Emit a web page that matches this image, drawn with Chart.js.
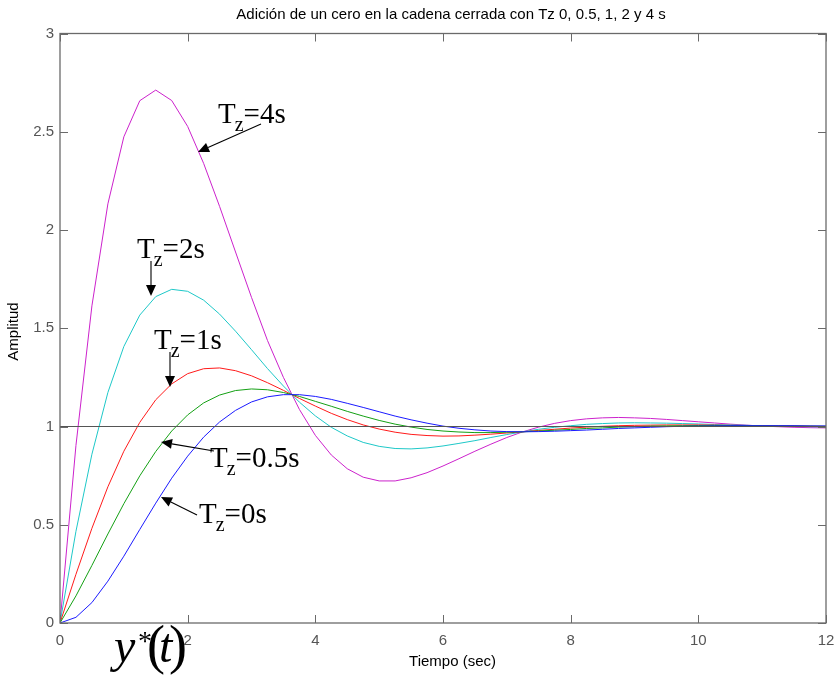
<!DOCTYPE html>
<html><head><meta charset="utf-8">
<script src="https://cdn.jsdelivr.net/npm/chart.js@4.4.1/dist/chart.umd.min.js"></script>
<style>html,body{margin:0;padding:0;background:#fff}canvas{display:block}</style>
</head><body>
<canvas id="c" width="838" height="676"></canvas>
<script>
// ---- data ----
const tiempo = [0,0.25,0.5,0.75,1,1.25,1.5,1.75,2,2.25,2.5,2.75,3,3.25,3.5,3.75,4,4.25,4.5,4.75,5,5.25,5.5,5.75,6,6.25,6.5,6.75,7,7.25,7.5,7.75,8,8.25,8.5,8.75,9,9.25,9.5,9.75,10,10.25,10.5,10.75,11,11.25,11.5,11.75,12];
const tz0  = [0,0.029,0.104,0.213,0.340,0.476,0.610,0.737,0.849,0.946,1.023,1.082,1.125,1.151,1.162,1.162,1.153,1.138,1.118,1.097,1.075,1.053,1.034,1.017,1.002,0.991,0.983,0.977,0.974,0.973,0.974,0.976,0.979,0.982,0.986,0.990,0.993,0.996,0.999,1.001,1.002,1.003,1.004,1.004,1.004,1.004,1.004,1.003,1.003];
const tz05 = [0,0.138,0.293,0.453,0.607,0.749,0.873,0.977,1.059,1.120,1.160,1.183,1.191,1.187,1.173,1.153,1.128,1.103,1.077,1.053,1.031,1.012,0.997,0.985,0.977,0.972,0.969,0.969,0.971,0.973,0.977,0.981,0.985,0.990,0.993,0.997,0.999,1.002,1.003,1.004,1.005,1.005,1.005,1.005,1.004,1.003,1.003,1.002,1.001];
const tz1  = [0,0.248,0.482,0.693,0.874,1.021,1.136,1.217,1.269,1.294,1.298,1.284,1.258,1.223,1.184,1.143,1.104,1.067,1.035,1.008,0.987,0.971,0.960,0.954,0.951,0.952,0.956,0.961,0.967,0.973,0.980,0.986,0.992,0.997,1.001,1.004,1.006,1.007,1.008,1.008,1.008,1.007,1.006,1.005,1.004,1.003,1.002,1.001,1.000];
const tz2  = [0,0.467,0.859,1.173,1.407,1.567,1.661,1.698,1.688,1.643,1.572,1.485,1.391,1.295,1.206,1.124,1.054,0.996,0.952,0.919,0.899,0.888,0.886,0.891,0.901,0.914,0.928,0.944,0.959,0.973,0.986,0.996,1.004,1.011,1.015,1.018,1.019,1.018,1.017,1.015,1.013,1.010,1.008,1.006,1.003,1.002,1.000,0.999,0.998];
const tz4  = [0,0.904,1.614,2.133,2.474,2.658,2.712,2.659,2.527,2.339,2.120,1.888,1.657,1.438,1.250,1.087,0.955,0.855,0.785,0.742,0.723,0.723,0.739,0.765,0.799,0.836,0.874,0.910,0.944,0.973,0.997,1.016,1.030,1.039,1.044,1.046,1.044,1.041,1.036,1.030,1.024,1.018,1.012,1.007,1.002,0.999,0.996,0.994,0.993];
const refX = [0,12];
const refY = [1,1];
const xTickValues = [0,2,4,6,8,10,12];
const xTickLabels = ['0','2','4','6','8','10','12'];
const yTickValues = [0,0.5,1,1.5,2,2.5,3];
const yTickLabels = ['0','0.5','1','1.5','2','2.5','3'];
const titleText = 'Adición de un cero en la cadena cerrada con Tz 0, 0.5, 1, 2 y 4 s';
const xTitle = 'Tiempo (sec)';
const yTitle = 'Amplitud';

// ---- styling ----
const SANS = '"Liberation Sans", Arial, Helvetica, sans-serif';
const SERIF = '"Liberation Serif", "Times New Roman", serif';
const pts = (ys) => tiempo.map((t,i)=>({x:t,y:ys[i]}));
const line = (data,color,w)=>({data,borderColor:color,borderWidth:w||1,pointRadius:0,tension:0,fill:false});

// annotations
const notes = [
  {suf:'=4s',  x:218, y:123, ax:261, ay:124, bx:198, by:152},
  {suf:'=2s',  x:137, y:258, ax:151, ay:261, bx:151, by:296},
  {suf:'=1s',  x:154, y:349, ax:170, ay:352, bx:170, by:387},
  {suf:'=0.5s',x:210, y:467, ax:214, ay:451, bx:161, by:442},
  {suf:'=0s',  x:199, y:523, ax:197, ay:515, bx:161, by:497}
];

function arrow(ctx,x1,y1,x2,y2){
  const ang=Math.atan2(y2-y1,x2-x1), L=11, W=5;
  const bx=x2-L*Math.cos(ang), by=y2-L*Math.sin(ang);
  ctx.beginPath();ctx.moveTo(x1,y1);ctx.lineTo(bx,by);ctx.stroke();
  ctx.beginPath();
  ctx.moveTo(x2,y2);
  ctx.lineTo(bx+W*Math.sin(ang),by-W*Math.cos(ang));
  ctx.lineTo(bx-W*Math.sin(ang),by+W*Math.cos(ang));
  ctx.closePath();ctx.fill();
}

const overlay = {
  id:'overlay',
  afterDatasetsDraw(chart){
    const ctx=chart.ctx, a=chart.chartArea, xs=chart.scales.x, ys=chart.scales.y;
    ctx.save();
    ctx.strokeStyle='#6a6a6a'; ctx.lineWidth=1.3;
    ctx.strokeRect(a.left,a.top,a.right-a.left,a.bottom-a.top);
    ctx.beginPath();
    xTickValues.forEach(v=>{const p=Math.round(xs.getPixelForValue(v))+0.5;
      ctx.moveTo(p,a.bottom);ctx.lineTo(p,a.bottom-8);ctx.moveTo(p,a.top);ctx.lineTo(p,a.top+8);});
    yTickValues.forEach(v=>{const p=Math.round(ys.getPixelForValue(v))+0.5;
      ctx.moveTo(a.left,p);ctx.lineTo(a.left+8,p);ctx.moveTo(a.right,p);ctx.lineTo(a.right-8,p);});
    ctx.lineWidth=1; ctx.stroke();
    ctx.fillStyle='#000';
    ctx.font='15px '+SANS; ctx.textAlign='center'; ctx.textBaseline='alphabetic';
    ctx.fillText(titleText,451,18.5);
    ctx.fillText(xTitle,452.5,666);
    ctx.save(); ctx.translate(17.5,331.5); ctx.rotate(-Math.PI/2); ctx.fillText(yTitle,0,0); ctx.restore();
    ctx.textAlign='left'; ctx.strokeStyle='#000'; ctx.lineWidth=1.1;
    notes.forEach(n=>{
      ctx.font='29px '+SERIF; ctx.fillText('T',n.x,n.y);
      let x=n.x+ctx.measureText('T').width-1;
      ctx.font='20px '+SERIF; ctx.fillText('z',x,n.y+8);
      x+=ctx.measureText('z').width;
      ctx.font='29px '+SERIF; ctx.fillText(n.suf,x,n.y);
      arrow(ctx,n.ax,n.ay,n.bx,n.by);
    });
    ctx.font='italic 48px '+SERIF; ctx.fillText('y',114,662);
    ctx.font='28px '+SERIF; ctx.fillText('*',138,650);
    ctx.font='54px '+SERIF; ctx.fillText('(',147,663);
    ctx.font='italic 48px '+SERIF; ctx.fillText('t',159,662);
    ctx.font='54px '+SERIF; ctx.fillText(')',169,663);
    ctx.restore();
  }
};

new Chart(document.getElementById('c'),{
  type:'line',
  data:{datasets:[
    line(refX.map((x,i)=>({x,y:refY[i]})),'#555555',1.2),
    line(pts(tz0),'#1a1aff'),
    line(pts(tz05),'#14a014'),
    line(pts(tz1),'#ff1a1a'),
    line(pts(tz2),'#1ec8c8'),
    line(pts(tz4),'#cc22cc')
  ]},
  options:{
    responsive:false, animation:false, devicePixelRatio:1,
    layout:{padding:{left:0,top:33.5,right:12,bottom:0}},
    plugins:{legend:{display:false},tooltip:{enabled:false},title:{display:false}},
    scales:{
      x:{type:'linear',min:0,max:12,
        afterFit:s=>{s.height=53; s.paddingLeft=0; s.paddingRight=0;},
        afterBuildTicks:s=>{s.ticks=xTickValues.map(v=>({value:v}));},
        grid:{display:false,drawTicks:false},border:{display:false},
        ticks:{autoSkip:false,maxRotation:0,padding:9,color:'#555',font:{family:SANS,size:15},
          callback:(v,i)=>xTickLabels[i]}},
      y:{type:'linear',min:0,max:3,
        afterFit:s=>{s.width=60; s.paddingTop=0; s.paddingBottom=0;},
        afterBuildTicks:s=>{s.ticks=yTickValues.map(v=>({value:v}));},
        grid:{display:false,drawTicks:false},border:{display:false},
        ticks:{autoSkip:false,padding:6,color:'#555',font:{family:SANS,size:15},
          callback:(v,i)=>yTickLabels[i]}}
    }
  },
  plugins:[overlay]
});
</script>
</body></html>
